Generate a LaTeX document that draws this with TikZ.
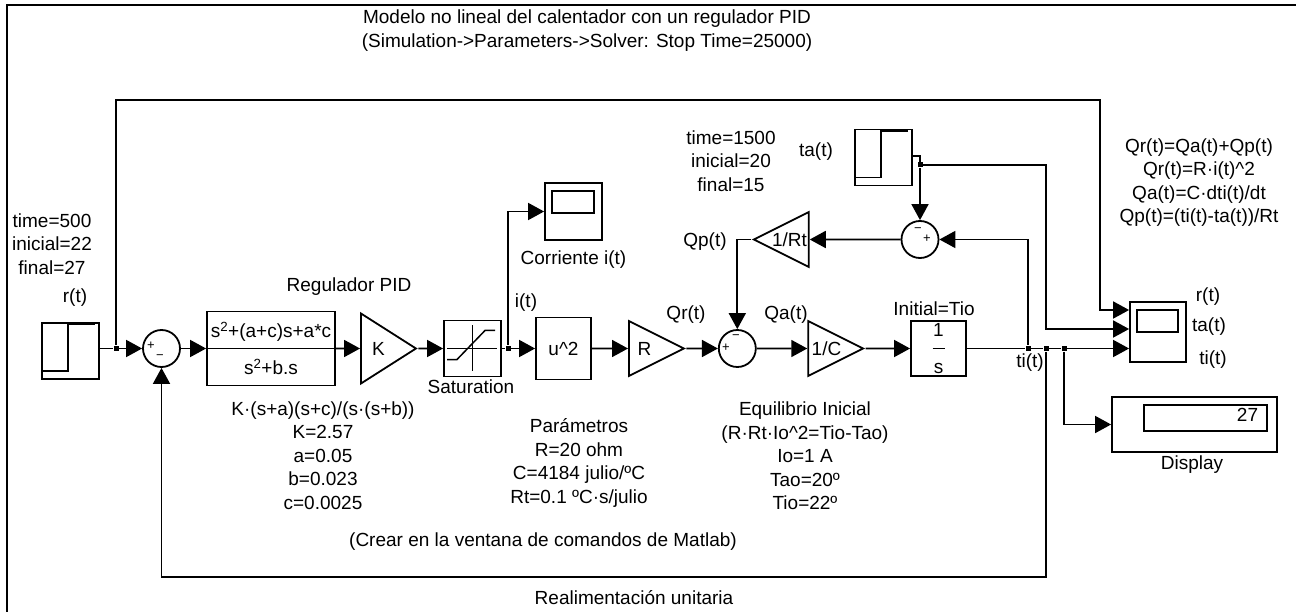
\documentclass[tikz,border=0pt]{standalone}
\usepackage{fontspec}
\setmainfont{Liberation Sans}
\usetikzlibrary{arrows.meta,shapes.geometric}

\begin{document}
\begin{tikzpicture}[x=1pt,y=-1pt,>={Triangle[length=16pt,width=17pt]},
	line width=1.8pt,font=\fontsize{19}{23.5}\selectfont,
	every node/.style={inner sep=0pt},
	bloque/.style 2 args={draw,minimum width=#1,minimum height=#2},
	ganancia/.style={draw,isosceles triangle,isosceles triangle stretches,
		minimum width=55,minimum height=55},
	suma/.style={draw,circle,minimum size=37},
	signo/.style={font=\fontsize{13}{13}\selectfont},
	union/.style={fill,minimum size=5},
	escalon/.style={bloque={57}{56},path picture={
		\draw ([yshift=8pt]path picture bounding box.south west)
		-- ([xshift=26pt,yshift=8pt]path picture bounding box.south west)
		|- ([xshift=-4pt,yshift=-1.5pt]path picture bounding box.north east);}},
	osciloscopio/.style 2 args={bloque={#1}{#2},path picture={
		\draw ([xshift=7pt,yshift=-8pt]path picture bounding box.north west)
		rectangle ([xshift=-8pt,yshift=-30pt]path picture bounding box.north east);}}
]

\useasboundingbox (0,0) rectangle (1296,612);

\draw[line width=2.5pt] (7,612) -- (7,5) -- (1296,5);

\node[align=center] (titulo) at (587,30.5)
	{Modelo no lineal del calentador con un regulador PID\\[0.5pt]%
	(Simulation->Parameters->Solver: Stop Time=25000)};

% referencia r(t)
\node[escalon] (r) at (70.5,351) {};
\node (tr) at (75,298) {r(t)};
\node[align=center] (pr) at (52,244) {time=500\\inicial=22\\final=27};
\node[union] (j1) at (116,348.5) {};

\node[suma] (s1) at (161.5,348.5) {};
\node[signo] (s1a) at (151,346) {+};
\node[signo] (s1b) at (160,357) {−};

\node[bloque={128}{74},align=center] (pid) at (271,348.5)
	{s\textsuperscript{2}+(a+c)s+a*c\\[13.5pt]s\textsuperscript{2}+b.s};
\draw[line width=1.5pt] (pid.west) -- (pid.east);
\node (treg) at (349,287) {Regulador PID};

\node[ganancia,minimum width=70] (k) at (378.5,348.5) {K};

\node[bloque={57}{56},path picture={
	\draw[line width=1.5pt] ([yshift=-5pt]path picture bounding box.north)
		-- ([yshift=6pt]path picture bounding box.south);
	\draw[line width=1.5pt] ([xshift=3pt]path picture bounding box.west)
		-- ([xshift=-4pt]path picture bounding box.east);
	\draw[line width=1.5pt] ([xshift=-25.5pt,yshift=-11pt]path picture bounding box.center)
		-- ++(10pt,0pt) -- ([xshift=12.5pt,yshift=18pt]path picture bounding box.center)
		-- ++(10pt,0pt);}] (sat) at (472.5,348.5) {};
\node (tsat) at (471,387) {Saturation};
\node[union] (j2) at (508,348.5) {};

\node[osciloscopio={57}{57}] (cor) at (573.5,211.5) {};
\node (tcor) at (573.5,260) {Corriente i(t)};
\node (tit) at (526,303) {i(t)};

\node[bloque={55}{62}] (u2) at (563.5,348.5) {u\textasciicircum 2};
\node[ganancia] (gr) at (644.5,348.5) {R};
\node (tqr) at (686,315) {Qr(t)};

\node[suma] (s2) at (737.3,348.5) {};
\node[signo] (s2a) at (726,348) {+};
\node[signo] (s2b) at (736,337.5) {−};
\node (tqa) at (786,315) {Qa(t)};

\node[ganancia] (gc) at (826.5,348.5) {1/C};

\node[bloque={55}{55},align=center,path picture={
	\draw[line width=1.5pt] ([xshift=-6pt]path picture bounding box.center)
		-- ([xshift=6pt]path picture bounding box.center);}] (int) at (938.5,348.5)
	{1\\[13.5pt]s};
\node (tini) at (934,309) {Initial=Tio};

\node[union] (j3) at (1028,348.5) {};
\node[union] (j4) at (1046,348.5) {};
\node[union] (j5) at (1064,348.5) {};
\node (tti) at (1030,363) {ti(t)};

% temperatura ambiente ta(t)
\node[escalon] (ta) at (883.5,157.5) {};
\node (tta) at (816,152) {ta(t)};
\node[align=center] (pta) at (731,161) {time=1500\\inicial=20\\final=15};
\node[union] (jta) at (920,165) {};

\node[suma] (s3) at (920,239.5) {};
\node[signo] (s3a) at (918,230) {−};
\node[signo] (s3b) at (927,239) {+};
\node[ganancia,shape border rotate=180] (rt) at (789.5,239.5) {1/Rt};
\node (tqp) at (705,242) {Qp(t)};

\node[osciloscopio={56}{60}] (sc) at (1158,332) {};
\node (tsr) at (1208,297) {r(t)};
\node (tsa) at (1209,327) {ta(t)};
\node (tsi) at (1213,360) {ti(t)};

\node[bloque={165}{55},path picture={
	\draw ([xshift=32pt,yshift=-8pt]path picture bounding box.north west)
		rectangle ([xshift=-10pt,yshift=-34pt]path picture bounding box.north east);}]
	(disp) at (1194.5,424.5) {};
\node[anchor=east] (vdisp) at (1259,415) {27};
\node (tdisp) at (1192,465) {Display};

\node[align=center] (ecs) at (1199,182.5)
	{Qr(t)=Qa(t)+Qp(t)\\Qr(t)=R·i(t)\textasciicircum 2\\Qa(t)=C·dti(t)/dt\\Qp(t)=(ti(t)-ta(t))/Rt};

\node[align=center] (tpid) at (323,455.5)
	{K·(s+a)(s+c)/(s·(s+b))\\K=2.57\\a=0.05\\b=0.023\\c=0.0025};
\node[align=center] (tpar) at (579,463)
	{Parámetros\\R=20 ohm\\C=4184 julio/ºC\\Rt=0.1 ºC·s/julio};
\node[align=center] (teq) at (805,456)
	{Equilibrio Inicial\\(R·Rt·Io\textasciicircum 2=Tio-Tao)\\Io=1 A\\Tao=20º\\Tio=22º};
\node (tcrear) at (543,542) {(Crear en la ventana de comandos de Matlab)};
\node (treal) at (634,598) {Realimentación unitaria};

\coordinate (esq1) at (1100,100);
\coordinate (esq2) at (1046,165);
\coordinate (esq3) at (161.5,577);

\draw (r.east |- j1) -- (j1);
\draw[->] (j1) -- (s1);
\draw[->] (j1) |- (esq1) |- (sc.west |- 0,310);
\draw[->] (s1) -- (pid);
\draw[->] (pid) -- (k);
\draw[->] (k) -- (sat);
\draw (sat) -- (j2);
\draw[->] (j2) -- (u2);
\draw[->] (j2) |- (cor);
\draw[->] (u2) -- (gr);
\draw[->] (gr) -- (s2);
\draw[->] (s2) -- (gc);
\draw[->] (gc) -- (int);
\draw (int) -- (j3) -- (j4) -- (j5);
\draw[->] (j5) -- (sc.west |- j5);
\draw[->] (j3) |- (s3);
\draw[->] (s3) -- (rt);
\draw[->] (rt.apex) -| (s2);
\draw (ta.east |- 0,156) -| (jta);
\draw[->] (jta) -- (s3);
\draw[->] (jta) -- (esq2) |- (sc.west |- 0,329);
\draw[->] (j4) |- (esq3) -- (s1);
\draw[->] (j5) |- (disp);

\end{tikzpicture}
\end{document}
